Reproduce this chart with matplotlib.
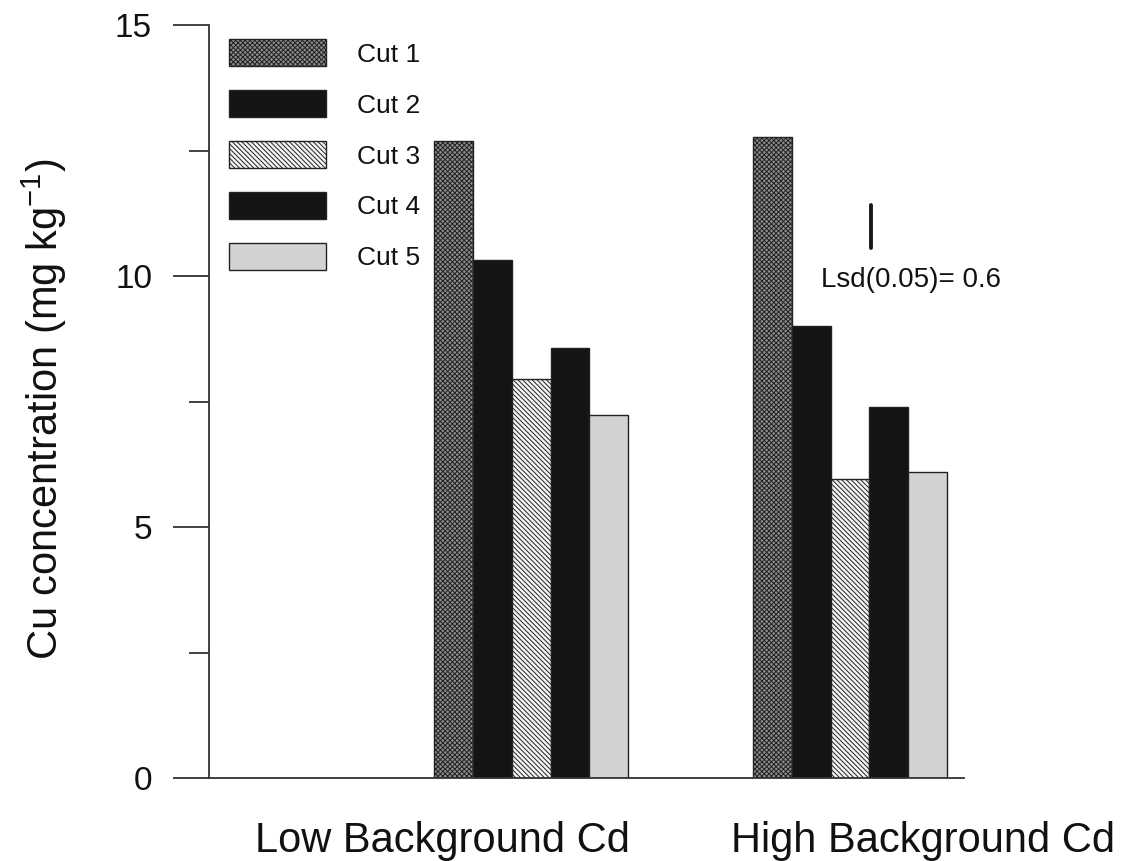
import matplotlib
matplotlib.use("Agg")
import matplotlib.pyplot as plt
from matplotlib.patches import Patch
import numpy as np

# values (mg kg-1)
cuts = ["Cut 1", "Cut 2", "Cut 3", "Cut 4", "Cut 5"]
groups = ["Low Background Cd", "High Background Cd"]
low_cd = [12.69, 10.32, 7.95, 8.57, 7.23]
high_cd = [12.77, 9.00, 5.96, 7.39, 6.10]
lsd_label = "Lsd(0.05)= 0.6"
lsd_span = [10.56, 11.41]

# styles per cut: (facecolor, hatch)
styles = [("#8c8c8c", "xxxxxxx"), ("#141414", None), ("#f4f4f4", "\\\\\\\\\\\\\\"),
          ("#141414", None), ("#d2d2d2", None)]

plt.rcParams["font.family"] = ["Liberation Sans", "DejaVu Sans"]
plt.rcParams["mathtext.fontset"] = "custom"
plt.rcParams["mathtext.rm"] = "Liberation Sans"
plt.rcParams["mathtext.it"] = "Liberation Sans"
plt.rcParams["hatch.linewidth"] = 0.7

fig = plt.figure(figsize=(11.24, 8.61), dpi=100)
ax = fig.add_axes([209 / 1124, 83 / 861, 755 / 1124, 753 / 861])

group_left = [5.78, 13.98]
for gi, vals in enumerate([low_cd, high_cd]):
    for i, v in enumerate(vals):
        fc, h = styles[i]
        ax.bar(group_left[gi] + i, v, width=1.0, align="edge", color=fc,
               hatch=h, edgecolor="#222222", linewidth=1.0)

ax.set_xlim(0, 19.41)
ax.set_ylim(0, 15)

for side in ["top", "right"]:
    ax.spines[side].set_visible(False)
for side in ["left", "bottom"]:
    ax.spines[side].set_color("#333333")
    ax.spines[side].set_linewidth(1.3)

ax.set_yticks([0, 5, 10, 15])
ax.set_yticks([2.5, 7.5, 12.5], minor=True)
ax.tick_params(axis="y", which="major", length=26, width=1.3, color="#333333",
               pad=15, labelsize=24, labelcolor="#111111")
ax.tick_params(axis="y", which="minor", length=14.5, width=1.3, color="#333333")
ax.set_xticks([])

ax.set_ylabel("Cu concentration (mg kg$^{\\mathregular{-1}}$)", fontsize=30,
              color="#111111")
ax.yaxis.set_label_coords(-0.185, 0.49)

xtr = ax.get_xaxis_transform()
for pos, name in zip([5.99, 18.35], groups):
    ax.text(pos, -0.098, name, transform=xtr, ha="center", va="baseline",
            fontsize=30, color="#111111")

# least significant difference marker
ax.plot([17.02, 17.02], lsd_span, color="#1a1a1a", linewidth=2.8,
        solid_capstyle="round")
ax.text(18.05, 9.78, lsd_label, ha="center", va="baseline", fontsize=20,
        color="#111111")

handles = [Patch(facecolor=fc, hatch=h, edgecolor="#222222", linewidth=1.0)
           for fc, h in styles]
leg = ax.legend(handles, cuts, loc="upper left",
                bbox_to_anchor=(20 / 755, (778 - 39) / 753), frameon=False,
                fontsize=19, handlelength=3.67, handleheight=1.21,
                labelspacing=0.89, handletextpad=1.17, borderpad=0,
                borderaxespad=0)
for t in leg.get_texts():
    t.set_color("#111111")

fig.savefig("out.png", dpi=100)
